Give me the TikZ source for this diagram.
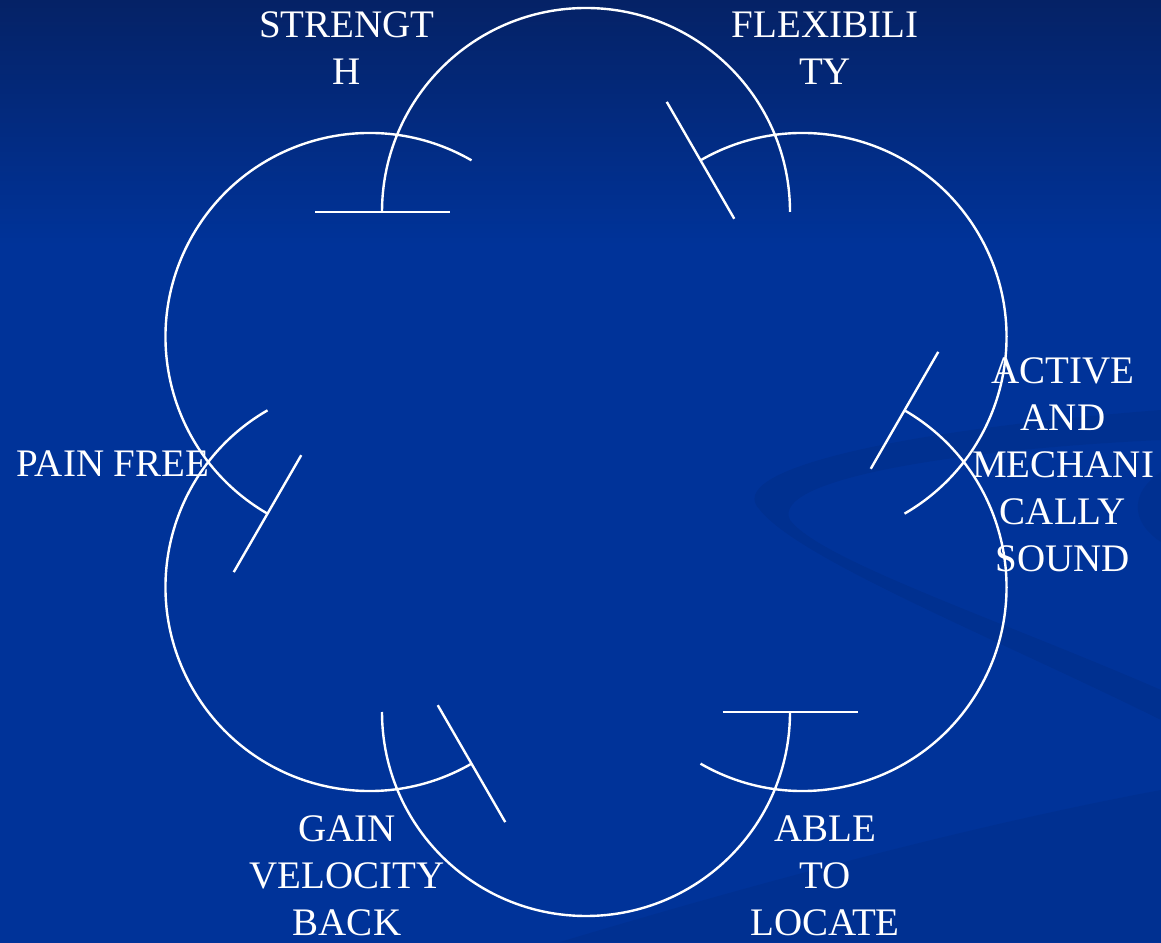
\documentclass[tikz,border=0pt]{standalone}
\usepackage{fontspec}
\setmainfont{Liberation Serif}
\usetikzlibrary{calc}
\definecolor{bgmain}{RGB}{0,51,153}
\definecolor{bgtop}{RGB}{5,34,102}
\pgfdeclareverticalshading{bgshade}{100bp}{color(0bp)=(bgmain); color(62bp)=(bgmain); color(75bp)=(bgtop); color(100bp)=(bgtop)}
\tikzset{
  cycline/.style={draw=white, line width=2.4pt},
  lbl/.style={text=white, inner sep=0pt, align=center, font=\fontsize{39}{47}\selectfont},
}
\begin{document}
\begin{tikzpicture}[x=1pt,y=1pt]
\useasboundingbox (0,0) rectangle (1161,942);
% background
\shade[shading=bgshade] (0,0) rectangle (1161,942);
\fill[black, opacity=0.06] (1161,532) .. controls (900,512) and (720,472) .. (760,432)
  .. controls (800,382) and (1000,302) .. (1161,222) -- (1161,252)
  .. controls (1000,322) and (820,382) .. (790,422)
  .. controls (770,462) and (950,492) .. (1161,502) -- cycle;
\fill[black, opacity=0.05] (560,0) .. controls (800,72) and (1000,122) .. (1161,152) -- (1161,0) -- cycle;
\fill[black, opacity=0.05] (1161,470) .. controls (1130,450) and (1130,420) .. (1161,400) -- cycle;
% cycle of arcs
\coordinate (C) at (586,480);
\foreach \k/\nm in {90/top,150/ul,210/ll,270/bot,330/lr,30/ur}{
  \pgfmathsetmacro{\sa}{\k-90}
  \pgfmathsetmacro{\ea}{\k+90}
  \coordinate (c\nm) at ($(C)+(\k:250)$);
  \coordinate (s\nm) at ($(c\nm)+(\sa:204)$);
  \coordinate (ti\nm) at ($(c\nm)+(\ea:136.5)$);
  \coordinate (to\nm) at ($(c\nm)+(\ea:271.5)$);
  \draw[cycline] (s\nm) arc[start angle=\sa, end angle=\ea, radius=204];
  \draw[cycline] (ti\nm) -- (to\nm);
}
% labels
\node[lbl] (strength) at (347,893.5) {STRENGT\\H};
\node[lbl] (flex) at (825,893.5) {FLEXIBILI\\TY};
\node[lbl] (active) at (1063,477) {ACTIVE\\AND\\MECHANI\\CALLY\\SOUND};
\node[lbl] (pain) at (113,478) {PAIN FREE};
\node[lbl] (gain) at (347,66) {GAIN\\VELOCITY\\BACK};
\node[lbl] (able) at (825,66) {ABLE\\TO\\LOCATE};
\end{tikzpicture}
\end{document}
